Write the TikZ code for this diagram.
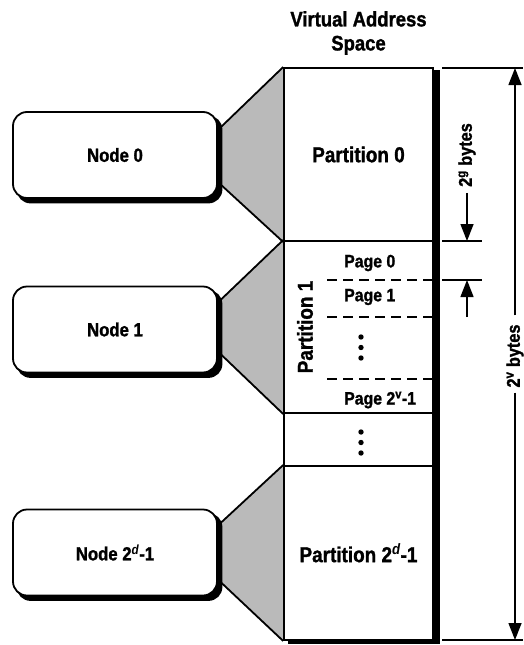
\documentclass[tikz,border=0pt]{standalone}
\usepackage{fontspec}
\setmainfont[FakeStretch=0.88, BoldFeatures={FakeBold=1.3}]{Liberation Sans}
\usetikzlibrary{arrows.meta,backgrounds}

\begin{document}
\begin{tikzpicture}[x=1pt,y=-1pt,
  cpu/.style={draw, line width=1.8pt, fill=white, rounded corners=14pt,
    minimum width=204pt, minimum height=86pt, inner sep=0pt,
    font=\fontsize{19}{22}\selectfont\bfseries},
  cpushadow/.style={fill=black, rounded corners=14pt},
  part/.style={draw, line width=1.8pt, fill=white, minimum width=149pt, inner sep=0pt},
  big/.style={font=\fontsize{21.5}{24}\selectfont\bfseries},
  pagelbl/.style={font=\fontsize{18}{21}\selectfont\bfseries, anchor=west, inner sep=0pt},
  sizelbl/.style={font=\fontsize{18.5}{21}\selectfont\bfseries, rotate=90},
  funnel/.style={fill=black!27},
  edge/.style={line width=1.8pt},
  dim/.style={line width=1.4pt},
  dimarrow/.style={line width=1.4pt, -{Triangle[length=17pt,width=13pt]}},
  pagesep/.style={line width=1.4pt, dash pattern=on 10pt off 6pt},
  dot/.style={fill=black}
]
\useasboundingbox (0,0) rectangle (523,645);

% title of the address column
\node[align=center, font=\fontsize{21}{24}\selectfont\bfseries] (title) at (358.5,33)
  {Virtual Address\\Space};

% partitions of the virtual address space
\node[part, minimum height=173pt] (p0) at (358.5,154.5) {};
\node[part, minimum height=172pt] (p1) at (358.5,327) {};
\node[part, minimum height=53pt]  (pd) at (358.5,439.5) {};
\node[part, minimum height=174pt] (p2) at (358.5,553) {};

\node[big] (p0t) at (p0) {Partition 0};
\node[big, rotate=90] (p1t) at (305,327) {Partition 1};
\node[big] (p2t) at (p2) {Partition 2\textsuperscript{\itshape d}-1};

% pages inside partition 1
\draw[pagesep] (327,280) -- (p1.east |- 0,280);
\draw[pagesep] (327,317) -- (p1.east |- 0,317);
\draw[pagesep] (327,379) -- (p1.east |- 0,379);
\node[pagelbl] (pg0) at (344,263) {Page 0};
\node[pagelbl] (pg1) at (344,297) {Page 1};
\node[pagelbl] (pgn) at (344,400) {Page 2\textsuperscript{v}-1};
\foreach \y in {337,347.5,358} \fill[dot] (361,\y) circle (2.7pt);
\foreach \y in {432,442.5,453} \fill[dot] (361,\y) circle (2.7pt);

% processing nodes
\node[cpu] (n0) at (115,155) {Node 0};
\node[cpu] (n1) at (115,329.5) {Node 1};
\node[cpu] (n2) at (115,552.5) {Node 2\textsuperscript{\itshape d}-1};

% funnels, node shadows and shadow of the address column
\begin{scope}[on background layer]
  \fill[funnel] ([yshift=25pt]n0.east) -- (p0.north west) -- (p0.south west) -- ([yshift=-27pt]n0.east) -- cycle;
  \fill[funnel] ([yshift=27pt]n1.east) -- (p1.north west) -- (p1.south west) -- ([yshift=-22pt]n1.east) -- cycle;
  \fill[funnel] ([yshift=27pt]n2.east) -- (p2.north west) -- (p2.south west) -- ([yshift=-27pt]n2.east) -- cycle;
  \foreach \n in {n0,n1,n2}
    \fill[cpushadow] ([shift={(4.5pt,-4.5pt)}]\n.north west) rectangle ([shift={(4.5pt,-4.5pt)}]\n.south east);
  \fill[black] ([shift={(5pt,-3pt)}]p0.north west) rectangle ([shift={(6pt,-3pt)}]p2.south east);
\end{scope}
\draw[edge] ([yshift=25pt]n0.east) -- (p0.north west);
\draw[edge] ([yshift=-27pt]n0.east) -- (p0.south west);
\draw[edge] ([yshift=27pt]n1.east) -- (p1.north west);
\draw[edge] ([yshift=-22pt]n1.east) -- (p1.south west);
\draw[edge] ([yshift=27pt]n2.east) -- (p2.north west);
\draw[edge] ([yshift=-27pt]n2.east) -- (p2.south west);

% dimension of the whole space
\coordinate (vt) at (515,68);
\coordinate (vb) at (515,640);
\draw[dim] (442,68) -- (523,68);
\draw[dim] (442,640) -- (523,640);
\node[sizelbl, inner sep=5pt] (vl) at (515,356) {2\textsuperscript{v} bytes};
\draw[dimarrow] ([yshift=4pt]vl.east) -- (vt);
\draw[dimarrow] (vl.west) -- (vb);

% dimension of one page
\coordinate (gt) at (467,241);
\coordinate (gb) at (467,280);
\coordinate (gs) at (467,317);
\draw[dim] (442,241) -- (482,241);
\draw[dim] (442,280) -- (482,280);
\node[sizelbl, inner sep=6pt] (gl) at (467,155) {2\textsuperscript{g} bytes};
\draw[dimarrow] (gl.west) -- (gt);
\draw[dimarrow] (gs) -- (gb);
\end{tikzpicture}
\end{document}
